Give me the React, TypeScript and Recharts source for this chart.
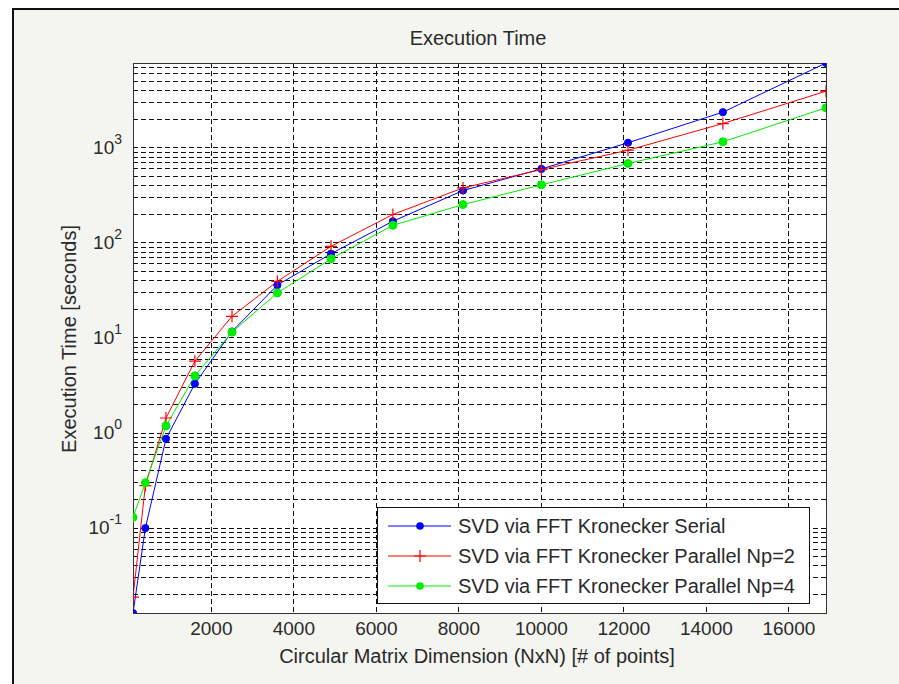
import React from "react";
import {
	LineChart,
	Line,
	XAxis,
	YAxis,
	CartesianGrid,
	Legend,
	ReferenceArea,
	ReferenceLine,
} from "recharts";

// matrix sizes N = n^2 for n = 10..130
const sizes = [100, 400, 900, 1600, 2500, 3600, 4900, 6400, 8100, 10000, 12100, 14400, 16900];
const serialTimes = [0.0128, 0.1, 0.87, 3.3, 11.7, 36, 77, 169, 355, 600, 1130, 2370, 7800];
const parallel2Times = [0.0188, 0.28, 1.44, 5.7, 16.9, 39.4, 92, 199, 379, 591, 943, 1800, 3940];
const parallel4Times = [0.13, 0.3, 1.19, 4.0, 11.5, 29.8, 68, 153, 253, 408, 684, 1157, 2636];

const xTicks = [2000, 4000, 6000, 8000, 10000, 12000, 14000, 16000];
const yTicks = [0.1, 1, 10, 100, 1000];

const seriesNames = {
	serial: "SVD via FFT Kronecker Serial",
	np2: "SVD via FFT Kronecker Parallel Np=2",
	np4: "SVD via FFT Kronecker Parallel Np=4",
};

const FONT = "'Liberation Sans', Arial, Helvetica, sans-serif";
const TEXT = "#2a2a2a";
const GRID_DASH = "5 3";

const data = sizes.map((n, i) => ({
	n,
	serial: serialTimes[i],
	np2: parallel2Times[i],
	np4: parallel4Times[i],
}));

const allTimes = [...serialTimes, ...parallel2Times, ...parallel4Times];
const yMin = Math.min(...allTimes);
const yMax = Math.max(...allTimes);
const xMin = Math.min(...sizes);
const xMax = Math.max(...sizes);

// log grid: every 1..9 x 10^k inside the axis range
const minorGrid: number[] = [];
for (let k = -2; k <= 4; k++) {
	for (let m = 1; m <= 9; m++) {
		const v = m * Math.pow(10, k);
		if (v >= yMin && v <= yMax) minorGrid.push(v);
	}
}

function PowerTick(props: any) {
	const { x, y, payload } = props;
	const exp = Math.round(Math.log10(payload.value));
	return (
		<text x={x} y={y} textAnchor="end" fill={TEXT} fontFamily={FONT}>
			<tspan fontSize={19} dy={6}>
				10
			</tspan>
			<tspan fontSize={14} dy={-10}>
				{exp}
			</tspan>
		</text>
	);
}

function circleDot(color: string, r: number) {
	return (props: any) => {
		const { cx, cy, index } = props;
		if (cx == null || cy == null) return <g key={index} />;
		return <circle key={index} cx={cx} cy={cy} r={r} fill={color} stroke={color} />;
	};
}

function plusDot(color: string, h: number) {
	return (props: any) => {
		const { cx, cy, index } = props;
		if (cx == null || cy == null) return <g key={index} />;
		return (
			<path
				key={index}
				d={`M${cx - h},${cy}H${cx + h}M${cx},${cy - h}V${cy + h}`}
				stroke={color}
				strokeWidth={1.2}
				fill="none"
			/>
		);
	};
}

const legendRows = [
	{ name: seriesNames.serial, color: "#0000ff", marker: "dot" },
	{ name: seriesNames.np2, color: "#ff0000", marker: "plus" },
	{ name: seriesNames.np4, color: "#00ee00", marker: "dot" },
];

function LegendBox() {
	return (
		<div
			style={{
				boxSizing: "border-box",
				width: 433,
				height: 97,
				background: "#fff",
				border: "1px solid #111",
				paddingTop: 3,
			}}
		>
			{legendRows.map((row) => (
				<div
					key={row.name}
					style={{ height: 30, display: "flex", alignItems: "center" }}
				>
					<svg width={80} height={30} style={{ flexShrink: 0 }}>
						<line x1={10} x2={73} y1={15} y2={15} stroke={row.color} strokeWidth={1.2} />
						{row.marker === "dot" ? (
							<circle cx={42} cy={15} r={3.8} fill={row.color} />
						) : (
							<path d="M36,15H48M42,9V21" stroke={row.color} strokeWidth={1.2} />
						)}
					</svg>
					<span
						style={{
							fontFamily: FONT,
							fontSize: 20,
							color: TEXT,
							whiteSpace: "nowrap",
							lineHeight: "30px",
						}}
					>
						{row.name}
					</span>
				</div>
			))}
		</div>
	);
}

export default function App() {
	return (
		<div
			style={{
				position: "absolute",
				left: 0,
				top: 0,
				width: 899,
				height: 684,
				background: "#fff",
				overflow: "hidden",
			}}
		>
			<style>{`
				.recharts-cartesian-grid line,
				.recharts-reference-line-line,
				.recharts-cartesian-axis-line,
				.recharts-reference-area-rect { shape-rendering: crispEdges; }
			`}</style>
			<div
				style={{
					position: "absolute",
					left: 12,
					top: 8,
					width: 899,
					height: 700,
					background: "#f4f4f0",
					borderLeft: "2px solid #111",
					borderTop: "2px solid #111",
				}}
			/>
			<div style={{ position: "absolute", left: 0, top: 0 }}>
				<LineChart
					width={899}
					height={684}
					data={data}
					margin={{ top: 63, right: 73, bottom: 0, left: 0 }}
				>
					<CartesianGrid
						fill="#fff"
						stroke="#111"
						strokeDasharray={GRID_DASH}
						horizontal={false}
					/>
					{minorGrid.map((v) => (
						<ReferenceLine
							key={v}
							y={v}
							stroke="#111"
							strokeWidth={1}
							strokeDasharray={GRID_DASH}
						/>
					))}
					<XAxis
						dataKey="n"
						type="number"
						domain={[xMin, xMax]}
						allowDataOverflow
						ticks={xTicks}
						height={71}
						tickSize={0}
						tickMargin={9}
						axisLine={{ stroke: "#333" }}
						tick={{ fill: TEXT, fontSize: 19, fontFamily: FONT }}
					/>
					<YAxis
						type="number"
						scale="log"
						domain={[yMin, yMax]}
						allowDataOverflow
						ticks={yTicks}
						width={133}
						tickSize={0}
						tickMargin={11}
						axisLine={{ stroke: "#333" }}
						tick={<PowerTick />}
					/>
					<ReferenceArea
						x1={xMin}
						x2={xMax}
						y1={yMin}
						y2={yMax}
						fill="none"
						stroke="#333"
						strokeWidth={1}
						ifOverflow="visible"
					/>
					<Line
						type="linear"
						dataKey="serial"
						name={seriesNames.serial}
						stroke="#0000ff"
						strokeWidth={1}
						dot={circleDot("#0000ff", 3.6)}
						activeDot={false}
						isAnimationActive={false}
					/>
					<Line
						type="linear"
						dataKey="np2"
						name={seriesNames.np2}
						stroke="#ff0000"
						strokeWidth={1}
						dot={plusDot("#ff0000", 6)}
						activeDot={false}
						isAnimationActive={false}
					/>
					<Line
						type="linear"
						dataKey="np4"
						name={seriesNames.np4}
						stroke="#00ee00"
						strokeWidth={1}
						dot={circleDot("#00ee00", 4)}
						activeDot={false}
						isAnimationActive={false}
					/>
					<Legend
						layout="horizontal"
						verticalAlign="middle"
						align="center"
						content={() => <LegendBox />}
						wrapperStyle={{ position: "absolute", left: 377, top: 507, width: 433, height: 97 }}
					/>
				</LineChart>
			</div>
			<svg
				width={899}
				height={684}
				style={{ position: "absolute", left: 0, top: 0, pointerEvents: "none" }}
			>
				<text x={478} y={45} textAnchor="middle" fontFamily={FONT} fontSize={20} fill={TEXT}>
					Execution Time
				</text>
				<text x={477} y={663} textAnchor="middle" fontFamily={FONT} fontSize={20} fill={TEXT}>
					Circular Matrix Dimension (NxN) [# of points]
				</text>
				<text
					x={76}
					y={339}
					textAnchor="middle"
					fontFamily={FONT}
					fontSize={20}
					fill={TEXT}
					transform="rotate(-90 76 339)"
				>
					Execution Time [seconds]
				</text>
			</svg>
		</div>
	);
}
